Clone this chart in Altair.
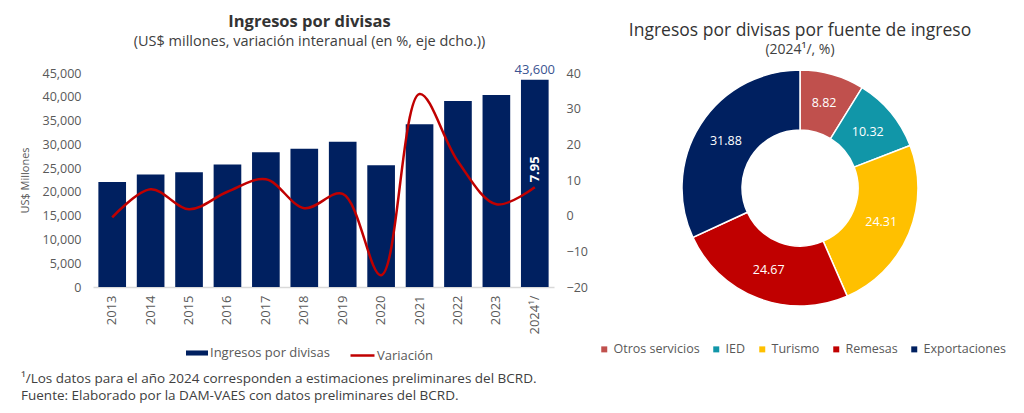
import altair as alt
import pandas as pd

# ---------------- data ----------------
years = ["2013", "2014", "2015", "2016", "2017", "2018", "2019", "2020",
         "2021", "2022", "2023", "2024¹/"]
ingresos = [22100, 23650, 24150, 25750, 28350, 29050, 30550, 25600,
            34200, 39100, 40400, 43600]
variacion = [-0.5, 7.4, 1.8, 6.7, 10.2, 2.1, 6.1, -16.7, 34.1, 15.2, 3.2, 7.95]

fuentes = ["Otros servicios", "IED", "Turismo", "Remesas", "Exportaciones"]
participacion = [8.82, 10.32, 24.31, 24.67, 31.88]
colores_fuentes = ["#C0504D", "#1196A8", "#FFC000", "#C00000", "#002060"]

FONT = "Open Sans"
GREY = "#595959"
NAVY = "#002060"
RED = "#C00000"

df = pd.DataFrame({
    "year": years,
    "ingresos": ingresos,
    "variacion": variacion,
    "s1": "Ingresos por divisas",
    "s2": "Variación",
})
last_year = years[-1]

# ---------------- left chart ----------------
x_enc = alt.X(
    "year:N", sort=years,
    scale=alt.Scale(paddingInner=0.28, paddingOuter=0.14),
    axis=alt.Axis(title=None, labelAngle=-90, labelAlign="right", labelBaseline="middle",
                  labelFontSize=13, labelColor=GREY, labelPadding=8,
                  ticks=False, domainColor="#D9D9D9", domainWidth=1.5, grid=False),
)

y1 = alt.Y("ingresos:Q",
           scale=alt.Scale(domain=[0, 45000], nice=False),
           axis=alt.Axis(values=list(range(0, 45001, 5000)), format=",.0f",
                         title="US$ Millones", titleFontSize=11, titleFontWeight="normal",
                         titleColor=GREY, titlePadding=12,
                         labelFontSize=12.5, labelColor=GREY, labelPadding=12,
                         ticks=False, domain=False, grid=False))

y2 = alt.Y("variacion:Q",
           scale=alt.Scale(domain=[-20, 40], nice=False),
           axis=alt.Axis(orient="right", values=list(range(-20, 41, 10)), title=None,
                         labelFontSize=12.5, labelColor=GREY, labelPadding=12,
                         ticks=False, domain=False, grid=False))

bars = alt.Chart(df).mark_bar().encode(
    x=x_enc,
    y=y1,
    fill=alt.Fill("s1:N", scale=alt.Scale(range=[NAVY]),
                  legend=alt.Legend(title=None, orient="none", legendX=93, legendY=269,
                                    symbolType="M-1,-0.23H1V0.23H-1Z", symbolSize=484,
                                    symbolStrokeWidth=0,
                                    labelFontSize=13, labelColor=GREY, padding=0,
                                    labelOffset=2)),
)

bar_label = alt.Chart(df).transform_filter(
    alt.datum.year == last_year
).mark_text(dy=-10, fontSize=13, color="#3B5491").encode(
    x=x_enc,
    y=y1,
    text=alt.Text("ingresos:Q", format=","),
)

line = alt.Chart(df).mark_line(interpolate="catmull-rom", strokeWidth=2.5).encode(
    x=x_enc,
    y=y2,
    stroke=alt.Stroke("s2:N", scale=alt.Scale(range=[RED]),
                      legend=alt.Legend(title=None, orient="none", legendX=256, legendY=269,
                                        symbolType="stroke", symbolSize=576,
                                        symbolStrokeWidth=2.5,
                                        labelFontSize=13, labelColor=GREY, padding=0,
                                        labelOffset=1)),
)

line_label = alt.Chart(df).transform_filter(
    alt.datum.year == last_year
).mark_text(angle=270, align="left", baseline="middle", dx=5, fontSize=13,
            fontWeight="bold", color="white").encode(
    x=x_enc,
    y=y2,
    text=alt.Text("variacion:Q", format=".2f"),
)

left = alt.layer(
    alt.layer(bars, bar_label),
    alt.layer(line, line_label),
).resolve_scale(y="independent").properties(
    width=461, height=214,
    title=alt.TitleParams(
        "Ingresos por divisas",
        subtitle="(US$ millones, variación interanual (en %, eje dcho.))",
        fontSize=16.5, fontWeight="bold", color="#333333",
        subtitleFontSize=14.5, subtitleColor="#404040", subtitlePadding=5,
        anchor="middle", offset=15, dx=-14,
    ),
)

# ---------------- right chart ----------------
pie_df = pd.DataFrame({"fuente": fuentes, "valor": participacion,
                       "orden": list(range(len(fuentes)))})

arcs = alt.Chart(pie_df).mark_arc(innerRadius=58, outerRadius=118,
                                  stroke="white", strokeWidth=1.5).encode(
    theta=alt.Theta("valor:Q", stack=True),
    order=alt.Order("orden:Q"),
    color=alt.Color("fuente:N", sort=fuentes,
                    scale=alt.Scale(domain=fuentes, range=colores_fuentes),
                    legend=alt.Legend(title=None, orient="none", legendX=-2, legendY=270,
                                      direction="horizontal", columns=5,
                                      symbolType="square", symbolSize=36,
                                      symbolStrokeWidth=0,
                                      labelFontSize=12.5, labelColor=GREY,
                                      columnPadding=10, labelOffset=3, padding=0)),
)

arc_text = alt.Chart(pie_df).mark_text(radius=88, fontSize=12.5, color="white").encode(
    theta=alt.Theta("valor:Q", stack=True),
    order=alt.Order("orden:Q"),
    text=alt.Text("valor:Q", format=".2f"),
)

right = alt.layer(arcs, arc_text).properties(
    width=400, height=230,
    title=alt.TitleParams(
        "Ingresos por divisas por fuente de ingreso",
        subtitle="(2024¹/, %)",
        fontSize=17.5, fontWeight="normal", color="#333333",
        subtitleFontSize=14, subtitleColor="#404040", subtitlePadding=4,
        anchor="middle", offset=10,
    ),
)

chart = alt.hconcat(left, right, spacing=10).resolve_scale(
    color="independent"
).properties(
    padding={"left": 11, "top": 5, "right": 5, "bottom": 5},
    title=alt.TitleParams(
        "¹/Los datos para el año 2024 corresponden a estimaciones preliminares del BCRD.",
        subtitle="Fuente: Elaborado por la DAM-VAES con datos preliminares del BCRD.",
        orient="bottom", anchor="start", fontSize=13.5, fontWeight="normal",
        color="#404040", subtitleFontSize=13.5, subtitleColor="#404040",
        subtitlePadding=3, offset=9, dx=2,
    ),
).configure(font=FONT).configure_view(stroke=None)

chart.save("out.html", embed_options={"renderer": "svg", "actions": False})
